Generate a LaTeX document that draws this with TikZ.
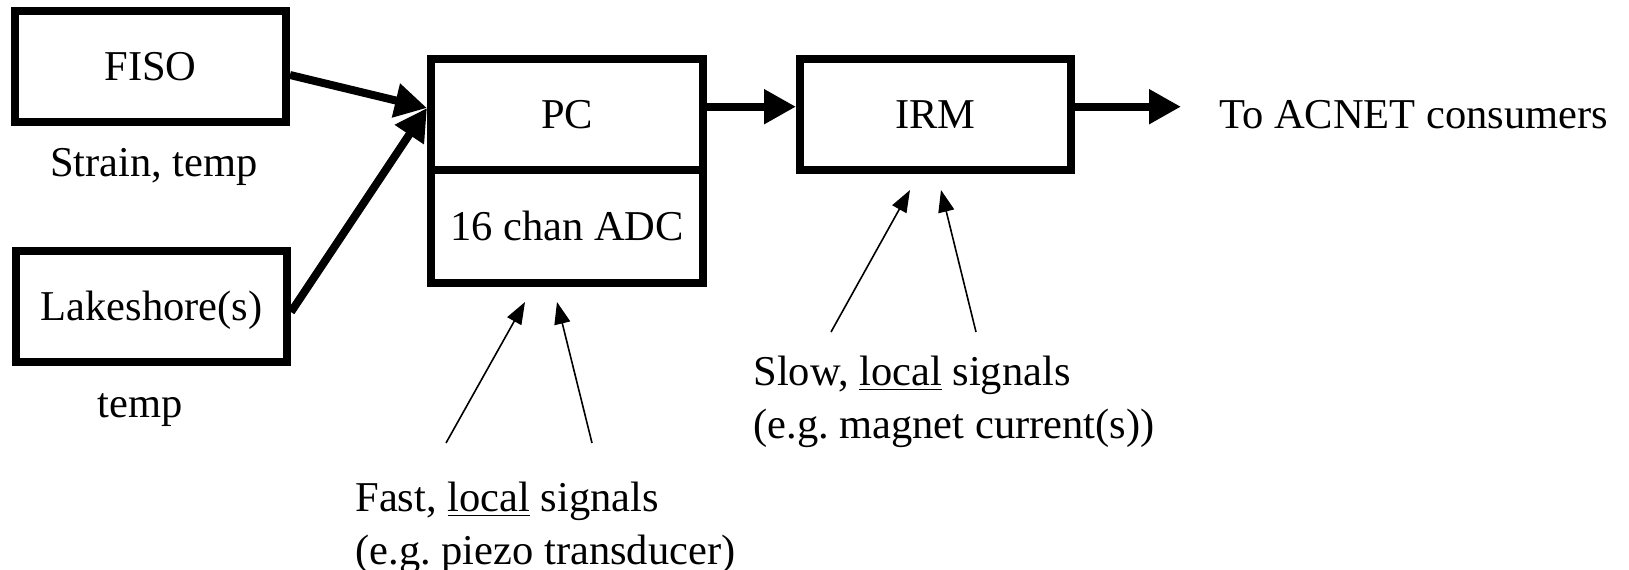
\documentclass[tikz,border=0pt]{standalone}
\usepackage{fontspec}
\setmainfont{Liberation Serif}
\usetikzlibrary{arrows.meta}

\begin{document}
\frenchspacing
\begin{tikzpicture}[x=0.5pt, y=-0.5pt, font=\fontsize{21.25}{26.5}\selectfont,
  blk/.style = {draw, line width=4pt, inner sep=0pt, minimum width=135.5pt, minimum height=55.5pt, text height=14pt, text depth=0pt},
  bus/.style = {line width=4pt, -{Triangle[length=16pt,width=16.5pt]}},
  sig/.style = {line width=0.8pt, -{Triangle[length=11pt,width=8pt]}},
  lbl/.style = {inner sep=0pt, align=left}]
\useasboundingbox (0,0) rectangle (1629,569);
\node[blk] (fiso) at (150.5,66.5) {FISO};
\node[blk] (lake) at (151.5,306.5) {Lakeshore(s)};
\node[blk, minimum width=136pt] (pc) at (567,114.5) {PC};
\node[blk, minimum width=136pt, minimum height=56.5pt] (adc) at (567,226.5) {16 chan ADC};
\node[blk] (irm) at (935.5,114.5) {IRM};
\node[inner sep=0pt, anchor=base west] (acnet) at (1219,128) {To ACNET consumers};
\node[inner sep=0pt, anchor=base] (strain) at (154,176) {Strain, temp};
\node[inner sep=0pt, anchor=base] (ltemp) at (140,417) {temp};
\node[lbl, anchor=north west] (fast) at (355,482) {Fast, \underline{local} signals\\(e.g. piezo transducer)};
\node[lbl, anchor=north west] (slow) at (753,356) {Slow, \underline{local} signals\\(e.g. magnet current(s))};
\coordinate (outtip) at (1181,106.7);
\coordinate (f1) at (446,443);
\coordinate (f2) at (592,443);
\coordinate (s1) at (831,332);
\coordinate (s2) at (976,332);
\draw[bus] ([yshift=-4.25pt]fiso.east) -- ([yshift=3.25pt]pc.west);
\draw[bus] ([yshift=-2.75pt]lake.east) -- ([yshift=3.25pt]pc.west);
\draw[bus] ([yshift=3.9pt]pc.east) -- ([yshift=3.9pt]irm.west);
\draw[bus] (irm.east |- outtip) -- (outtip);
\draw[sig] (f1) -- ([xshift=-21pt,yshift=-7.5pt]adc.south);
\draw[sig] (f2) -- ([xshift=-5pt,yshift=-7.5pt]adc.south);
\draw[sig] (s1) -- ([xshift=-12.75pt,yshift=-8pt]irm.south);
\draw[sig] (s2) -- ([xshift=2.75pt,yshift=-8pt]irm.south);
\end{tikzpicture}
\end{document}
